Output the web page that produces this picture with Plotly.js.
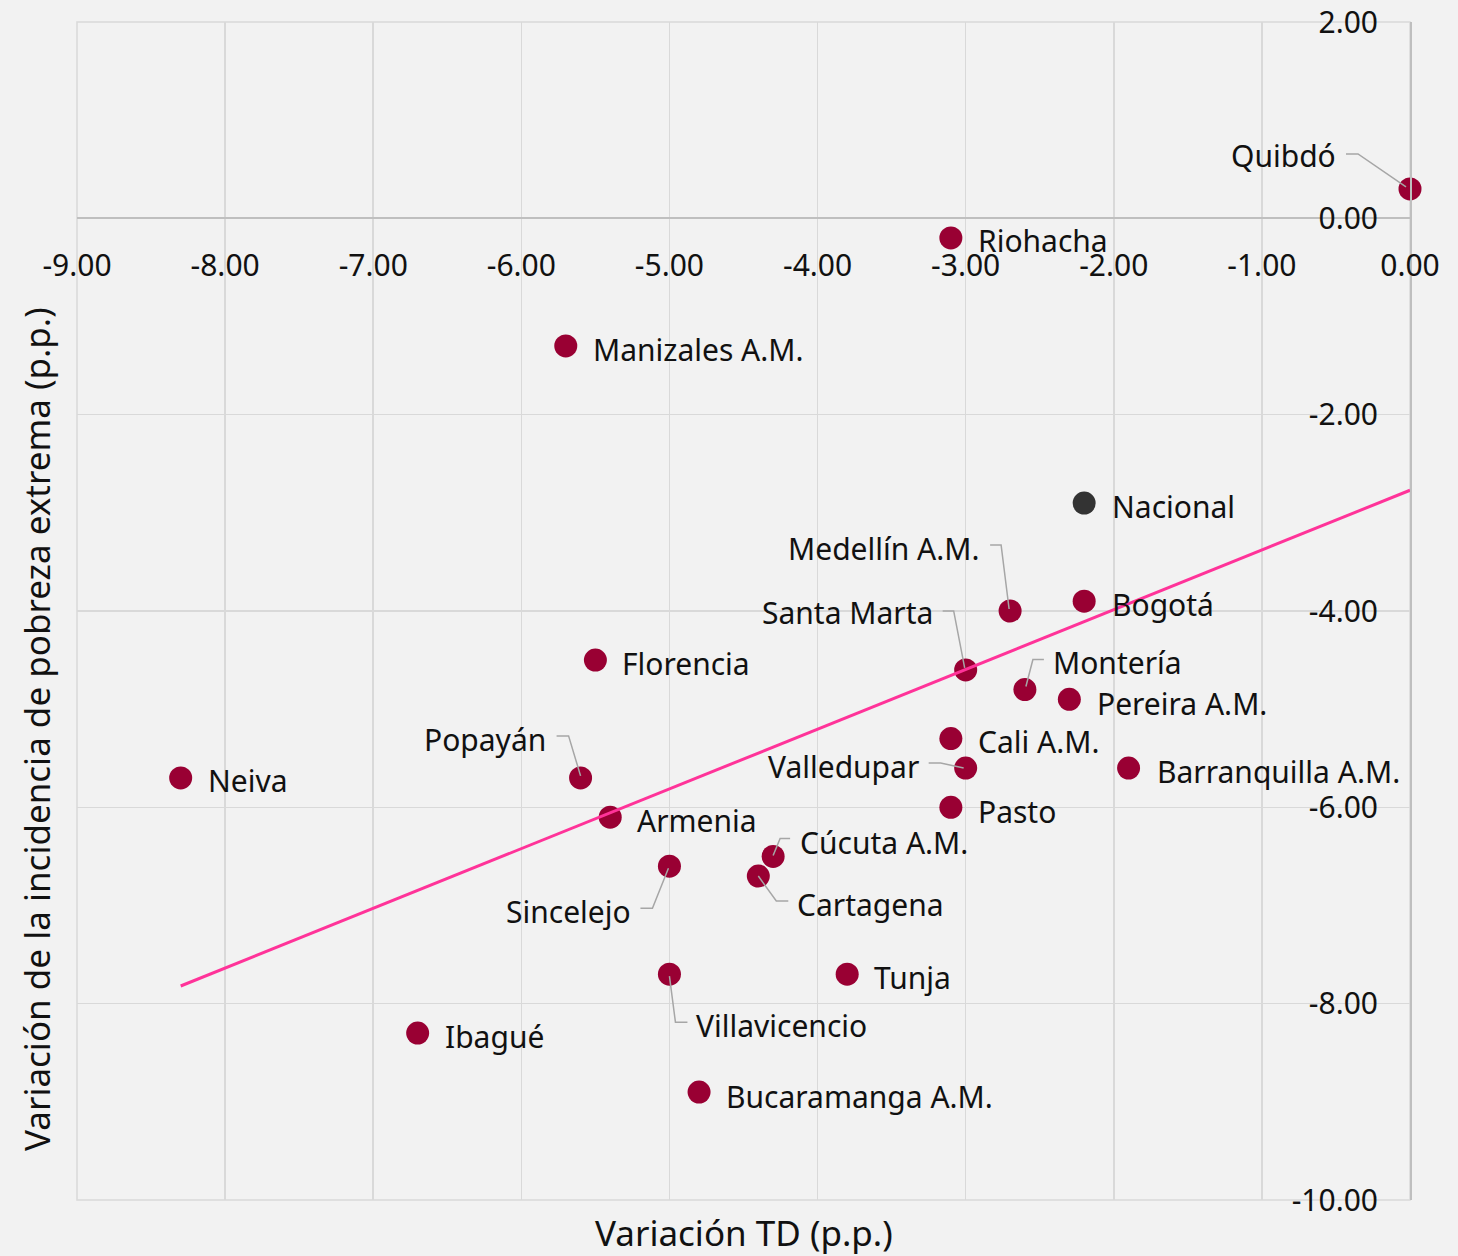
<!DOCTYPE html>
<html>
<head>
<meta charset="utf-8">
<script src="https://cdn.plot.ly/plotly-3.0.1.min.js"></script>
<style>html,body{margin:0;padding:0;background:#F2F2F2;}#chart{width:1458px;height:1256px;}</style>
</head>
<body>
<div id="chart"></div>
<script>
// ---- Data ----
const cities = ["Quibdó","Riohacha","Manizales A.M.","Medellín A.M.","Bogotá","Santa Marta","Florencia","Montería","Pereira A.M.","Cali A.M.","Valledupar","Barranquilla A.M.","Neiva","Popayán","Pasto","Armenia","Cúcuta A.M.","Sincelejo","Cartagena","Tunja","Villavicencio","Ibagué","Bucaramanga A.M."];
const tdVar   = [0.00,-3.10,-5.70,-2.70,-2.20,-3.00,-5.50,-2.60,-2.30,-3.10,-3.00,-1.90,-8.30,-5.60,-3.10,-5.40,-4.30,-5.00,-4.40,-3.80,-5.00,-6.70,-4.80];
const povVar  = [0.30,-0.20,-1.30,-4.00,-3.90,-4.60,-4.50,-4.80,-4.90,-5.30,-5.60,-5.60,-5.70,-5.70,-6.00,-6.10,-6.50,-6.60,-6.70,-7.70,-7.70,-8.30,-8.90];
const nationalName = ["Nacional"];
const nationalTD   = [-2.20];
const nationalPov  = [-2.90];
// linear trend line end points
const trendX = [-8.30, 0.00];
const trendY = [-7.82, -2.77];
const xTicks = [-9,-8,-7,-6,-5,-4,-3,-2,-1,0];
const xTickText = ["-9.00","-8.00","-7.00","-6.00","-5.00","-4.00","-3.00","-2.00","-1.00","0.00"];
const yTicks = [2,0,-2,-4,-6,-8,-10];
const yTickText = ["2.00","0.00","-2.00","-4.00","-6.00","-8.00","-10.00"];

// ---- Label placement (pixel offsets from marker; leader = polyline in px, y down) ----
const labelPos = {
  "Quibdó":           {dx:-72, dy:-33, side:"right", leader:[[-64,-35],[-52,-35],[-4,-2]]},
  "Riohacha":         {dx:25, dy:3},
  "Manizales A.M.":   {dx:25, dy:4},
  "Medellín A.M.":    {dx:-28, dy:-63, side:"right", leader:[[-20,-66],[-9,-66],[-1,-2]]},
  "Bogotá":           {dx:26, dy:3},
  "Santa Marta":      {dx:-31, dy:-57, side:"right", leader:[[-23,-59],[-12,-59],[-1,-2]]},
  "Florencia":        {dx:25, dy:3},
  "Montería":         {dx:26, dy:-27, leader:[[19,-30],[8,-30],[1,-3]]},
  "Pereira A.M.":     {dx:26, dy:4},
  "Cali A.M.":        {dx:25, dy:3},
  "Valledupar":       {dx:-45, dy:-2, side:"right", leader:[[-37,-5],[-25,-5],[-2,0]]},
  "Barranquilla A.M.":{dx:26, dy:3},
  "Neiva":            {dx:25, dy:3},
  "Popayán":          {dx:-33, dy:-38, side:"right", leader:[[-24,-42],[-12,-42],[0,-2]]},
  "Pasto":            {dx:25, dy:4},
  "Armenia":          {dx:25, dy:3},
  "Cúcuta A.M.":      {dx:25, dy:-14, leader:[[17,-18],[7,-18],[0,-1]]},
  "Sincelejo":        {dx:-36, dy:45, side:"right", leader:[[-29,42],[-17,42],[-1,2]]},
  "Cartagena":        {dx:37, dy:28, leader:[[30,25],[18,25],[0,0]]},
  "Tunja":            {dx:25, dy:3},
  "Villavicencio":    {dx:25, dy:51, leader:[[18,48],[6,48],[0,2]]},
  "Ibagué":           {dx:25, dy:3},
  "Bucaramanga A.M.": {dx:25, dy:4},
  "Nacional":         {dx:26, dy:3}
};

const FONT = "Noto Sans, Open Sans, sans-serif";
const LABEL_SIZE = 30;
const TEXT_COLOR = "#111111";

const annotations = [];
const shapes = [
  // frame on the left, top and bottom edges (same colour as the grid)
  {type: "rect", xref: "paper", yref: "paper", x0: 0, x1: 1, y0: 0, y1: 1,
   line: {color: "#D9D9D9", width: 1.5}, layer: "below"}
];
function addLabel(name, x, y) {
  const p = labelPos[name];
  annotations.push({
    x: x, y: y, xref: "x", yref: "y", text: name, showarrow: false,
    xanchor: p.side === "right" ? "right" : "left", yanchor: "middle",
    xshift: p.dx, yshift: -p.dy,
    font: {family: FONT, size: LABEL_SIZE, color: TEXT_COLOR}
  });
  if (p.leader) {
    const pts = p.leader.map((q, i) => (i === 0 ? "M" : "L") + q[0] + "," + (-q[1])).join(" ");
    shapes.push({
      type: "path", xref: "x", yref: "y", xsizemode: "pixel", ysizemode: "pixel",
      xanchor: x, yanchor: y, path: pts,
      line: {color: "#A6A6A6", width: 1.5}, layer: "above"
    });
  }
}
cities.forEach((c, i) => addLabel(c, tdVar[i], povVar[i]));
nationalName.forEach((c, i) => addLabel(c, nationalTD[i], nationalPov[i]));

// axis titles
annotations.push({
  xref: "paper", yref: "paper", x: 0.5, y: -32/1178, xanchor: "center", yanchor: "middle",
  text: "Variación TD (p.p.)", showarrow: false,
  font: {family: FONT, size: 35, color: TEXT_COLOR}
});
annotations.push({
  xref: "paper", yref: "paper", x: -40/1333, y: (1200-729)/1178, xanchor: "center", yanchor: "middle",
  text: "Variación de la incidencia de pobreza extrema (p.p.)", showarrow: false, textangle: -90,
  font: {family: FONT, size: 35, color: TEXT_COLOR}
});

const traces = [
  {
    type: "scatter", mode: "lines", x: trendX, y: trendY, yaxis: "y2",
    line: {color: "#FF3399", width: 3}, hoverinfo: "skip", showlegend: false
  },
  {
    type: "scatter", mode: "markers", x: tdVar, y: povVar, text: cities, cliponaxis: false,
    marker: {color: "#990033", size: 23, line: {width: 0}}, showlegend: false
  },
  {
    type: "scatter", mode: "markers", x: nationalTD, y: nationalPov, text: nationalName, cliponaxis: false,
    marker: {color: "#333333", size: 23, line: {width: 0}}, showlegend: false
  }
];

const layout = {
  width: 1458, height: 1256,
  margin: {l: 77, r: 48, t: 22, b: 56, pad: 0},
  paper_bgcolor: "#F2F2F2", plot_bgcolor: "#F2F2F2",
  font: {family: FONT, size: LABEL_SIZE, color: TEXT_COLOR},
  showlegend: false,
  xaxis: {
    range: [-9, 0], tickvals: xTicks, ticktext: xTickText,
    anchor: "free", position: 10/12, side: "bottom",
    showgrid: true, gridcolor: "#D9D9D9", gridwidth: 1.5,
    zeroline: false, showline: false, ticks: "",
    ticklabelstandoff: 27,
    tickfont: {family: FONT, size: LABEL_SIZE, color: TEXT_COLOR}
  },
  yaxis: {
    range: [-10, 2], tickvals: yTicks, showticklabels: false,
    side: "right",
    showgrid: true, gridcolor: "#D9D9D9", gridwidth: 1.5,
    zeroline: true, zerolinecolor: "#BFBFBF", zerolinewidth: 2,
    showline: true, linecolor: "#BFBFBF", linewidth: 2, ticks: ""
  },
  yaxis2: {
    range: [-10, 2], tickvals: yTicks, ticktext: yTickText,
    overlaying: "y", anchor: "free", side: "left", position: (1378-77)/1333,
    showgrid: false, zeroline: false, showline: false, ticks: "",
    ticklabelstandoff: 0,
    tickfont: {family: FONT, size: LABEL_SIZE, color: TEXT_COLOR}
  },
  annotations: annotations,
  shapes: shapes
};

Plotly.newPlot("chart", traces, layout, {displayModeBar: false, staticPlot: true});
</script>
</body>
</html>
